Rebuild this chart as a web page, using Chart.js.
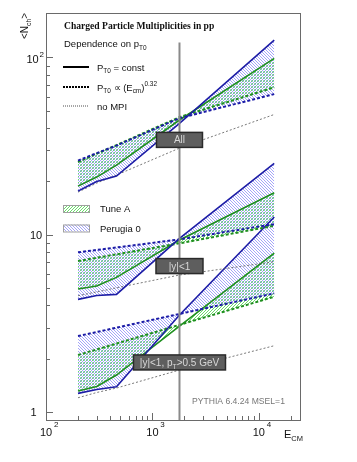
<!DOCTYPE html>
<html>
<head>
<meta charset="utf-8">
<script src="https://cdn.jsdelivr.net/npm/chart.js@4.4.0/dist/chart.umd.min.js"></script>
<style>
html, body { margin: 0; padding: 0; background: #fff; }
#wrap { width: 357px; height: 462px; }
</style>
</head>
<body>
<div id="wrap"><canvas id="multChart" width="357" height="462"></canvas></div>
<script>
// centre-of-mass energies (GeV) where the curves are sampled
const energies = [200, 300, 460, 1800, 14000];

// All charged particles
const allPerugiaConst = [17.65, 19.97, 21.45, 42.5, 125.2];
const allPerugiaScaled = [26.2, 28.9, 31.85, 45.5, 62.1];
const allTuneAConst = [18.83, 21.17, 24.73, 44.4, 98.7];
const allTuneAScaled = [25.7, 28.7, 32.06, 46.1, 67.8];
const allNoMPI = [17.42, 19.58, 21.73, 30.83, 47.7];

// |y| < 1
const midPerugiaConst = [4.33, 4.55, 4.62, 9.56, 25.3];
const midPerugiaScaled = [7.97, 8.22, 8.49, 9.43, 11.5];
const midTuneAConst = [4.95, 5.15, 5.76, 9.35, 17.27];
const midTuneAScaled = [7.12, 7.43, 7.77, 8.96, 11.25];
const midNoMPI = [4.54, 4.77, 5.03, 5.94, 7.06];

// |y| < 1, pT > 0.5 GeV
const hardPerugiaConst = [1.279, 1.345, 1.394, 3.534, 12.6];
const hardPerugiaScaled = [2.691, 2.834, 3.001, 3.584, 4.68];
const hardTuneAConst = [1.318, 1.398, 1.622, 3.063, 7.9];
const hardTuneAScaled = [2.103, 2.262, 2.441, 3.111, 4.48];
const hardNoMPI = [1.208, 1.293, 1.37, 1.731, 2.373];

// Tevatron marker and the region labels sitting on it
const markerEnergy = 1800;
const markerTop = 121.5;
const regionLabels = ['All', '|y|<1', '|y|<1, p_T>0.5 GeV'];
const regionLabelN = [34.3, 6.67, 1.91];
const regionLabelWidths = [46, 47, 92];

const xTickDecades = [100, 1000, 10000];
const yTickDecades = [1, 10, 100];

const BLUE = '#1c1ca6';
const GREEN = '#1f8f1f';
const SANS = '"Liberation Sans", Arial, sans-serif';

const canvas = document.getElementById('multChart');
const ctx = canvas.getContext('2d');

// 1px diagonal hatch built pixel by pixel so it stays crisp
function makeHatch(rgb, dir) {
    const size = 3;
    const tile = document.createElement('canvas');
    tile.width = size;
    tile.height = size;
    const g = tile.getContext('2d');
    const img = g.createImageData(size, size);
    for (let i = 0; i < size; i++) {
        const col = dir > 0 ? size - 1 - i : i;
        const k = (i * size + col) * 4;
        img.data[k] = rgb[0];
        img.data[k + 1] = rgb[1];
        img.data[k + 2] = rgb[2];
        img.data[k + 3] = 255;
    }
    g.putImageData(img, 0, 0);
    return ctx.createPattern(tile, 'repeat');
}

const greenHatch = makeHatch([105, 222, 105], 1);
const blueHatch = makeHatch([165, 165, 248], -1);

function points(values) {
    return energies.map((e, i) => ({ x: e, y: values[i] }));
}

function groupDatasets(perConst, perScaled, taConst, taScaled, noMpi) {
    return [
        { data: points(perConst), borderColor: BLUE, borderWidth: 1.6, fill: '+1', backgroundColor: blueHatch },
        { data: points(perScaled), borderColor: BLUE, borderWidth: 2, borderDash: [3, 2], fill: false },
        { data: points(taConst), borderColor: GREEN, borderWidth: 1.6, fill: '+1', backgroundColor: greenHatch },
        { data: points(taScaled), borderColor: GREEN, borderWidth: 2, borderDash: [3, 2], fill: false },
        { data: points(noMpi), borderColor: '#555', borderWidth: 0.8, borderDash: [2, 2], fill: false }
    ];
}

// text with sub/superscripts: parts like ['P', '_T0', ' = const']
function drawRich(c, parts, x, y, size) {
    parts.forEach(p => {
        let txt = p, fs = size, dy = 0;
        if (p[0] === '_') { txt = p.slice(1); fs = size * 0.68; dy = size * 0.3; }
        if (p[0] === '^') { txt = p.slice(1); fs = size * 0.68; dy = -size * 0.45; }
        c.font = fs + 'px ' + SANS;
        c.fillText(txt, x, y + dy);
        x += c.measureText(txt).width;
    });
    return x;
}

function richWidth(c, parts, size) {
    let w = 0;
    parts.forEach(p => {
        let txt = p, fs = size;
        if (p[0] === '_' || p[0] === '^') { txt = p.slice(1); fs = size * 0.68; }
        c.font = fs + 'px ' + SANS;
        w += c.measureText(txt).width;
    });
    return w;
}

const decorations = {
    id: 'decorations',
    afterDatasetsDraw(chart) {
        const c = chart.ctx;
        const xs = chart.scales.x;
        const ys = chart.scales.y;
        const area = chart.chartArea;
        c.save();

        // region label boxes
        const mx = xs.getPixelForValue(markerEnergy);
        regionLabels.forEach((label, i) => {
            const cy = ys.getPixelForValue(regionLabelN[i]);
            const w = regionLabelWidths[i];
            c.fillStyle = '#5e5e5e';
            c.fillRect(mx - w / 2, cy - 7.5, w, 15);
            c.strokeStyle = '#2a2a2a';
            c.lineWidth = 1.5;
            c.strokeRect(mx - w / 2, cy - 7.5, w, 15);
            const parts = label.split(/(?=_T)|(?<=_T)/);
            const tw = richWidth(c, parts, 10);
            c.fillStyle = '#d8d8d8';
            c.textBaseline = 'alphabetic';
            drawRich(c, parts, mx - tw / 2, cy + 3.6, 10);
        });

        // frame
        c.strokeStyle = '#6a6a6a';
        c.lineWidth = 1;
        c.strokeRect(area.left + 0.5, area.top + 0.5, area.right - area.left - 1, area.bottom - area.top);

        // ticks
        c.beginPath();
        yTickDecades.forEach(d => {
            for (let k = 1; k < 10; k++) {
                const v = d * k;
                if (v < ys.min || v > ys.max) continue;
                const py = Math.round(ys.getPixelForValue(v)) + 0.5;
                c.moveTo(area.left, py);
                c.lineTo(area.left + (k === 1 ? 7 : 4), py);
            }
        });
        xTickDecades.forEach(d => {
            for (let k = 1; k < 10; k++) {
                const v = d * k;
                if (v < xs.min || v > xs.max) continue;
                const px = Math.round(xs.getPixelForValue(v)) + 0.5;
                c.moveTo(px, area.bottom);
                c.lineTo(px, area.bottom - (k === 1 ? 7 : 4));
            }
        });
        c.stroke();

        // tick labels
        c.fillStyle = '#111';
        c.textBaseline = 'alphabetic';
        xTickDecades.forEach(d => {
            const px = xs.getPixelForValue(d);
            const exp = String(Math.round(Math.log10(d)));
            c.font = '11px ' + SANS;
            c.fillText('10', px - 6, 436);
            c.font = '8px ' + SANS;
            c.fillText(exp, px + 8, 427);
        });
        c.font = '11px ' + SANS;
        c.fillText('1', 30.5, 416);
        c.fillText('10', 30, 239);
        c.fillText('10', 26.5, 63);
        c.font = '8px ' + SANS;
        c.fillText('2', 39.5, 57);

        // axis titles
        drawRich(c, ['E', '_CM'], 284, 438, 11);
        c.save();
        c.translate(28, 39);
        c.rotate(-Math.PI / 2);
        drawRich(c, ['<N', '_ch', '>'], 0, 0, 10);
        c.restore();

        // title and legend
        c.font = 'bold 9.6px "Liberation Serif", "Times New Roman", serif';
        c.fillText('Charged Particle Multiplicities in pp', 64, 29);
        drawRich(c, ['Dependence on p', '_T0'], 64, 47, 9.5);

        const legendRows = [
            { y: 67, dash: [], width: 2, color: '#000', parts: ['P', '_T0', ' = const'] },
            { y: 87, dash: [2, 1], width: 2, color: '#000', parts: ['P', '_T0', ' \u221D (E', '_cm', ')', '^0.32'] },
            { y: 106, dash: [1, 1], width: 0.8, color: '#222', parts: ['no MPI'] }
        ];
        legendRows.forEach(row => {
            c.beginPath();
            c.setLineDash(row.dash);
            c.lineWidth = row.width;
            c.strokeStyle = row.color;
            c.moveTo(63, row.y);
            c.lineTo(89, row.y);
            c.stroke();
            c.setLineDash([]);
            c.fillStyle = '#111';
            drawRich(c, row.parts, 97, row.y + 3.5, 9.5);
        });

        // band legend
        [[greenHatch, 'Tune A', 205], [blueHatch, 'Perugia 0', 224.5]].forEach(([pat, label, top]) => {
            c.fillStyle = pat;
            c.fillRect(63, top, 26, 7);
            c.strokeStyle = '#a0a0a0';
            c.lineWidth = 1;
            c.strokeRect(63.5, top + 0.5, 26, 7);
            c.fillStyle = '#111';
            c.font = '9.5px ' + SANS;
            c.fillText(label, 100, top + 7);
        });

        c.fillStyle = '#777';
        c.font = '8.6px ' + SANS;
        c.fillText('PYTHIA 6.4.24 MSEL=1', 192, 404);

        c.restore();
    }
};

const datasets = [
    { data: [{ x: markerEnergy, y: 0.905 }, { x: markerEnergy, y: markerTop }], borderColor: '#8a8a8a', borderWidth: 2, fill: false },
    ...groupDatasets(allPerugiaConst, allPerugiaScaled, allTuneAConst, allTuneAScaled, allNoMPI),
    ...groupDatasets(midPerugiaConst, midPerugiaScaled, midTuneAConst, midTuneAScaled, midNoMPI),
    ...groupDatasets(hardPerugiaConst, hardPerugiaScaled, hardTuneAConst, hardTuneAScaled, hardNoMPI)
];

new Chart(canvas, {
    type: 'line',
    data: { datasets: datasets },
    options: {
        responsive: false,
        animation: false,
        elements: { point: { radius: 0 }, line: { tension: 0 } },
        layout: { padding: { left: 46, right: 56, top: 13, bottom: 42 } },
        scales: {
            x: { type: 'logarithmic', min: 100, max: 25000, display: false },
            y: { type: 'logarithmic', min: 0.905, max: 178, display: false }
        },
        plugins: {
            legend: { display: false },
            tooltip: { enabled: false },
            filler: { drawTime: 'beforeDatasetsDraw' }
        }
    },
    plugins: [decorations]
});
</script>
</body>
</html>
